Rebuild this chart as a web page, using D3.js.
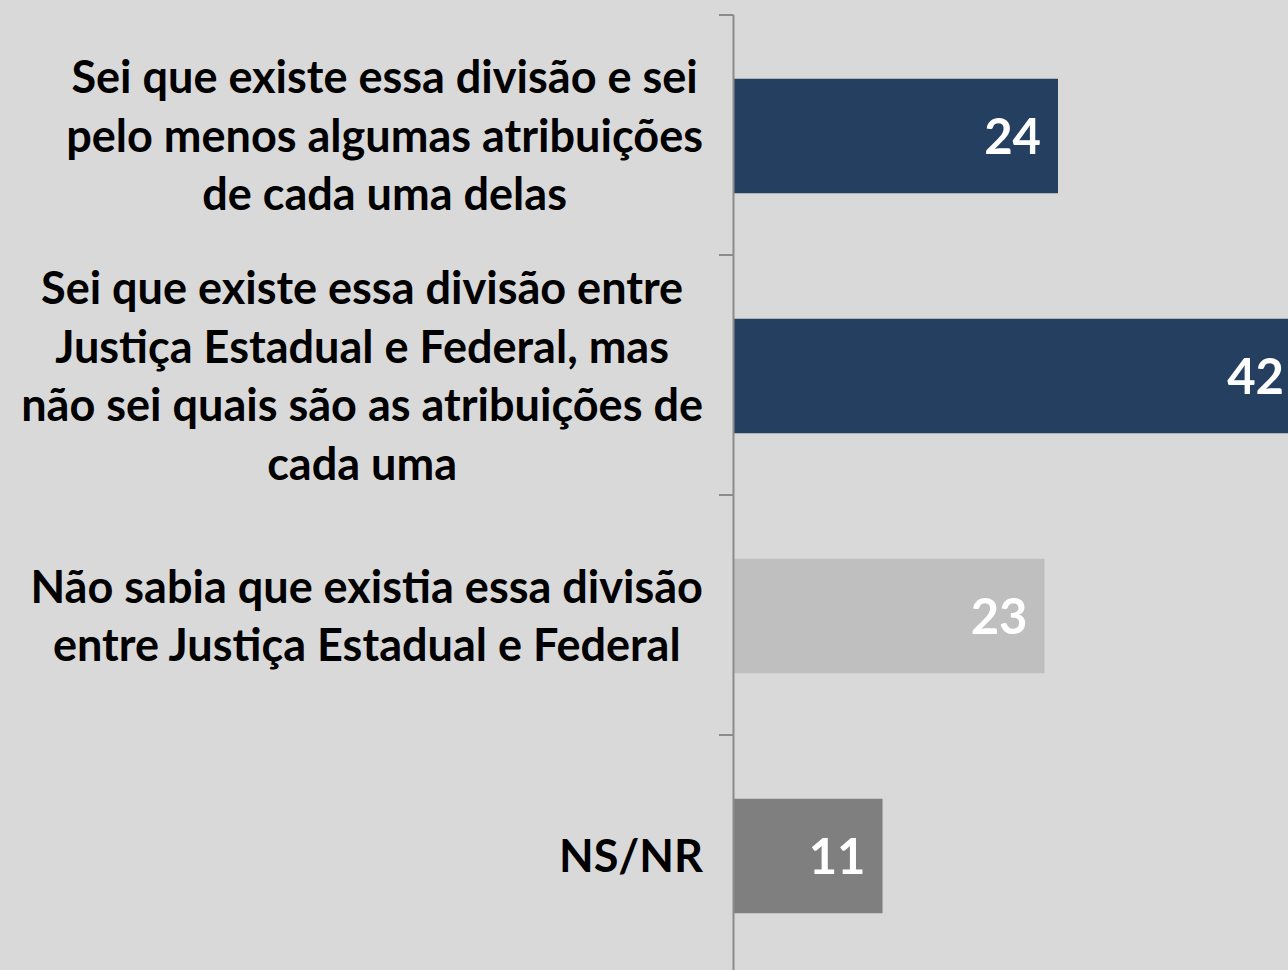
<!DOCTYPE html>
<html>
<head>
<meta charset="utf-8">
<script src="https://cdn.jsdelivr.net/npm/d3@7"></script>
<style>
  html, body { margin: 0; padding: 0; background: #d9d9d9; }
  svg { display: block; }
</style>
</head>
<body>
<script>
// data
var categories = [
  "Sei que existe essa divisão e sei pelo menos algumas atribuições de cada uma delas",
  "Sei que existe essa divisão entre Justiça Estadual e Federal, mas não sei quais são as atribuições de cada uma",
  "Não sabia que existia essa divisão entre Justiça Estadual e Federal",
  "NS/NR"
];
var labelLines = [
  ["Sei que existe essa divisão e sei", "pelo menos algumas atribuições", "de cada uma delas"],
  ["Sei que existe essa divisão entre", "Justiça Estadual e Federal, mas", "não sei quais são as atribuições de", "cada uma"],
  ["Não sabia que existia essa divisão", "entre Justiça Estadual e Federal"],
  ["NS/NR"]
];
var values = [24, 42, 23, 11];
var barColors = ["#243f60", "#243f60", "#bfbfbf", "#7f7f7f"];

var width = 1288, height = 970;
var font = "Lato, 'Open Sans', sans-serif";

var svg = d3.select("body").append("svg")
  .attr("width", width)
  .attr("height", height);

svg.append("rect")
  .attr("width", width).attr("height", height)
  .attr("fill", "#d9d9d9");

var x = d3.scaleLinear().domain([0, 40]).range([734, 734 + 40 * 13.5]);
var y = d3.scaleBand().domain(categories).range([16, 976]).paddingInner(0.523).paddingOuter(0.2615);

// bars
svg.selectAll("rect.bar")
  .data(values)
  .enter().append("rect")
  .attr("class", "bar")
  .attr("x", x(0))
  .attr("y", (d, i) => y(categories[i]))
  .attr("width", d => x(d) - x(0))
  .attr("height", y.bandwidth())
  .attr("fill", (d, i) => barColors[i]);

// axis line + ticks (category boundaries)
var axisG = svg.append("g");
axisG.append("line")
  .attr("x1", x(0) - 0.5).attr("x2", x(0) - 0.5)
  .attr("y1", 15).attr("y2", height)
  .attr("stroke", "#8c8c8c").attr("stroke-width", 2);
var tickYs = categories.map((c, i) => 15 + i * y.step());
axisG.selectAll("line.tick")
  .data(tickYs)
  .enter().append("line")
  .attr("class", "tick")
  .attr("x1", x(0) - 15).attr("x2", x(0) - 0.5)
  .attr("y1", d => d).attr("y2", d => d)
  .attr("stroke", "#8c8c8c").attr("stroke-width", 2);

// category labels: fit font size so widest line matches reference width
var probe = svg.append("text")
  .attr("font-family", font).attr("font-weight", "bold").attr("font-size", 100)
  .text("não sei quais são as atribuições de");
var fs = 682 / probe.node().getComputedTextLength() * 100;
probe.remove();
var lineH = 58.5;
var labelRight = 703;

labelLines.forEach(function (lines, i) {
  var cy = y(categories[i]) + y.bandwidth() / 2;
  var g = svg.append("g");
  var texts = g.selectAll("text")
    .data(lines)
    .enter().append("text")
    .attr("font-family", font)
    .attr("font-weight", "bold")
    .attr("font-size", fs)
    .attr("fill", "#000")
    .attr("text-anchor", "middle")
    .attr("dy", "0.35em")
    .attr("y", (d, j) => cy + (j - (lines.length - 1) / 2) * lineH)
    .text(d => d);
  var maxW = d3.max(texts.nodes(), n => n.getComputedTextLength());
  texts.attr("x", labelRight - maxW / 2);
});

// value labels
svg.selectAll("text.value")
  .data(values)
  .enter().append("text")
  .attr("class", "value")
  .attr("font-family", font)
  .attr("font-weight", "bold")
  .attr("font-size", 49)
  .attr("fill", "#fff")
  .attr("text-anchor", "end")
  .attr("dy", "0.36em")
  .attr("x", d => x(d) - 17)
  .attr("y", (d, i) => y(categories[i]) + y.bandwidth() / 2)
  .text(d => d);
</script>
</body>
</html>
